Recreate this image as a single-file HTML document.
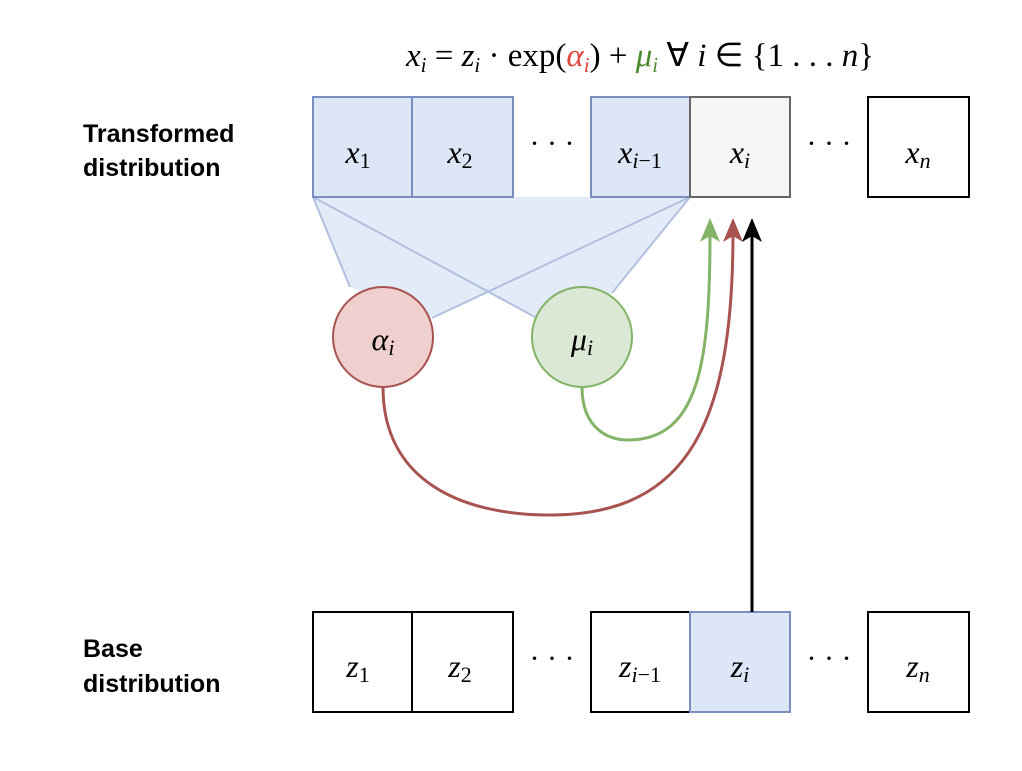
<!DOCTYPE html>
<html><head><meta charset="utf-8"><style>
body{margin:0;background:#fff;}
svg text{font-family:"Liberation Serif",serif;}
.m{font-style:italic;font-size:32px;}
.lab{font-family:"Liberation Sans",sans-serif;font-weight:bold;font-size:25px;}
</style></head><body>
<svg width="1022" height="766" xmlns="http://www.w3.org/2000/svg">
<text x="640" y="66" text-anchor="middle" style="font-size:33px"><tspan font-style="italic">x</tspan><tspan font-style="italic" font-size="21" dy="6">i</tspan><tspan dy="-6"> = </tspan><tspan font-style="italic">z</tspan><tspan font-style="italic" font-size="21" dy="6">i</tspan><tspan dy="-6"> · exp(</tspan><tspan font-style="italic" fill="#e0463a">α</tspan><tspan font-style="italic" font-size="21" dy="6" fill="#e0463a">i</tspan><tspan dy="-6">) + </tspan><tspan font-style="italic" fill="#4a8a2a">μ</tspan><tspan font-style="italic" font-size="21" dy="6" fill="#4a8a2a">i</tspan><tspan dy="-6">  ∀ </tspan><tspan font-style="italic">i</tspan><tspan> ∈ {1 . . . </tspan><tspan font-style="italic">n</tspan><tspan>}</tspan></text>

<text class="lab" x="83" y="142">Transformed</text>
<text class="lab" x="83" y="176">distribution</text>
<text class="lab" x="83" y="657">Base</text>
<text class="lab" x="83" y="692">distribution</text>

<!-- fan -->
<path d="M313,197 L350,287 L432,318 L690,197 Z M313,197 L535,317 L612,293 L690,197 Z" fill="#e3ebf8" fill-rule="nonzero"/>
<g stroke="#b0c0de" stroke-width="2" fill="none">
<line x1="313" y1="197" x2="350" y2="287"/>
<line x1="313" y1="197" x2="535" y2="317"/>
<line x1="690" y1="197" x2="432" y2="318"/>
<line x1="690" y1="197" x2="612" y2="293"/>
</g>

<g stroke-width="2">
<rect x="313" y="97" width="99" height="100" fill="#dce6f7" stroke="#7a8fc0"/>
<rect x="412" y="97" width="101" height="100" fill="#dce6f7" stroke="#7a8fc0"/>
<rect x="591" y="97" width="99" height="100" fill="#dce6f7" stroke="#7a8fc0"/>
<rect x="690" y="97" width="100" height="100" fill="#f5f5f5" stroke="#666"/>
<rect x="868" y="97" width="101" height="100" fill="#fff" stroke="#000"/>
</g>
<text x="358" y="163" text-anchor="middle" class="m">x<tspan font-size="22" font-style="normal" dy="5">1</tspan></text>
<text x="460" y="163" text-anchor="middle" class="m">x<tspan font-size="22" font-style="normal" dy="5">2</tspan></text>
<text x="640" y="163" text-anchor="middle" class="m">x<tspan font-size="22" dy="5">i</tspan><tspan font-size="22" font-style="normal">−1</tspan></text>
<text x="740" y="163" text-anchor="middle" class="m">x<tspan font-size="22" dy="5">i</tspan></text>
<text x="918" y="163" text-anchor="middle" class="m">x<tspan font-size="22" dy="5">n</tspan></text>
<text x="552" y="153" text-anchor="middle" font-size="30">· · ·</text>
<text x="829" y="153" text-anchor="middle" font-size="30">· · ·</text>

<g stroke-width="2">
<rect x="313" y="612" width="99" height="100" fill="#fff" stroke="#000"/>
<rect x="412" y="612" width="101" height="100" fill="#fff" stroke="#000"/>
<rect x="591" y="612" width="99" height="100" fill="#fff" stroke="#000"/>
<rect x="690" y="612" width="100" height="100" fill="#dce6f7" stroke="#7a8fc0"/>
<rect x="868" y="612" width="101" height="100" fill="#fff" stroke="#000"/>
</g>
<text x="358" y="677" text-anchor="middle" class="m">z<tspan font-size="22" font-style="normal" dy="5">1</tspan></text>
<text x="460" y="677" text-anchor="middle" class="m">z<tspan font-size="22" font-style="normal" dy="5">2</tspan></text>
<text x="640" y="677" text-anchor="middle" class="m">z<tspan font-size="22" dy="5">i</tspan><tspan font-size="22" font-style="normal">−1</tspan></text>
<text x="740" y="677" text-anchor="middle" class="m">z<tspan font-size="22" dy="5">i</tspan></text>
<text x="918" y="677" text-anchor="middle" class="m">z<tspan font-size="22" dy="5">n</tspan></text>
<text x="552" y="668" text-anchor="middle" font-size="30">· · ·</text>
<text x="829" y="668" text-anchor="middle" font-size="30">· · ·</text>

<circle cx="383" cy="337" r="50" fill="#f0d0cf" stroke="#a8534f" stroke-width="2"/>
<circle cx="582" cy="337" r="50" fill="#dae8d5" stroke="#82b366" stroke-width="2"/>
<text x="383" y="350" text-anchor="middle" class="m" font-size="34">α<tspan font-size="22" dy="5">i</tspan></text>
<text x="582" y="350" text-anchor="middle" class="m" font-size="34">μ<tspan font-size="22" dy="5">i</tspan></text>

<path d="M582,387 C582,430 610,440 628,440 C700,440 710,360 710,232" fill="none" stroke="#82b366" stroke-width="3"/>
<polygon points="700,242 710,218 720,242 710,236" fill="#82b366"/>
<path d="M383,387 C383,480 460,515 550,515 C690,515 733,420 733,232" fill="none" stroke="#a8534f" stroke-width="3"/>
<polygon points="723,242 733,218 743,242 733,236" fill="#a8534f"/>
<line x1="752" y1="612" x2="752" y2="230" stroke="#000" stroke-width="3"/>
<polygon points="742,242 752,218 762,242 752,236" fill="#000"/>
</svg>
</body></html>
